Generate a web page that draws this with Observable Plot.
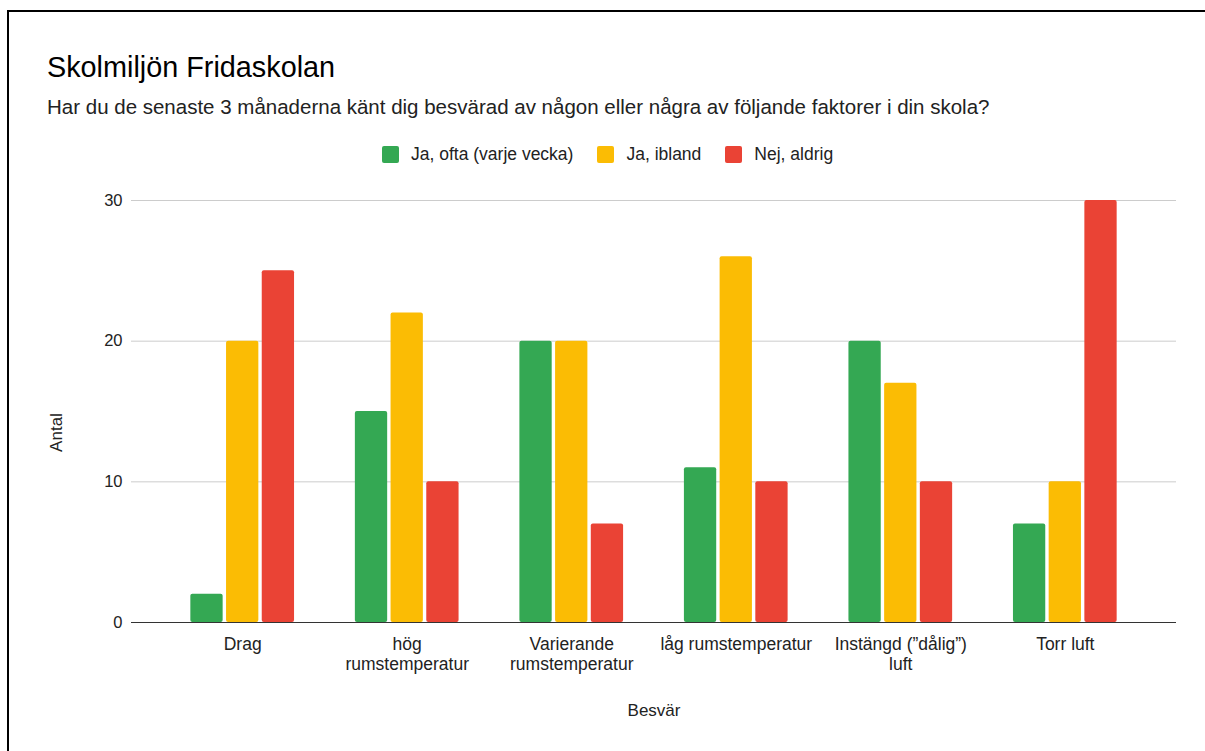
<!DOCTYPE html>
<html>
<head>
<meta charset="utf-8">
<script src="https://cdn.jsdelivr.net/npm/d3@7"></script>
<script src="https://cdn.jsdelivr.net/npm/@observablehq/plot@0.6"></script>
<style>
html, body { margin: 0; padding: 0; background: #fff; overflow: hidden; }
#page { width: 1205px; height: 751px; position: relative; overflow: hidden; font-family: Arial, "Liberation Sans", sans-serif; }
#frameTop { position: absolute; left: 7px; top: 10px; width: 1198px; height: 2px; background: #000; }
#frameLeft { position: absolute; left: 7px; top: 10px; width: 2px; height: 741px; background: #000; }
#title { position: absolute; left: 47px; top: 52.6px; font-size: 28.8px; line-height: 28.8px; color: #000; white-space: nowrap; }
#subtitle { position: absolute; left: 47px; top: 97.2px; font-size: 20.5px; line-height: 20.5px; color: #222; white-space: nowrap; }
#legend { position: absolute; left: 382px; top: 146px; display: flex; align-items: center; font-size: 17.5px; line-height: 17.5px; color: #222; white-space: nowrap; }
#legend .item { display: flex; align-items: center; margin-right: 24px; }
#legend .sw { display: inline-block; width: 17px; height: 17px; border-radius: 2px; margin-right: 12px; }
#chart { position: absolute; left: 0; top: 180px; }
</style>
</head>
<body>
<div id="page">
<div id="title"></div>
<div id="subtitle"></div>
<div id="legend"></div>
<div id="chart"></div>
<div id="frameTop"></div>
<div id="frameLeft"></div>
</div>
<script>
// ---- data ----
const titleText = "Skolmiljön Fridaskolan";
const subtitleText = "Har du de senaste 3 månaderna känt dig besvärad av någon eller några av följande faktorer i din skola?";
const xTitle = "Besvär";
const yTitle = "Antal";
const categories = ["Drag", "hög rumstemperatur", "Varierande rumstemperatur", "låg rumstemperatur", "Instängd (”dålig”) luft", "Torr luft"];
const tickLabels = ["Drag", "hög\nrumstemperatur", "Varierande\nrumstemperatur", "låg rumstemperatur", "Instängd (”dålig”)\nluft", "Torr luft"];
const seriesNames = ["Ja, ofta (varje vecka)", "Ja, ibland", "Nej, aldrig"];
const seriesColors = ["#34A853", "#FBBC04", "#EA4335"];
const ofta = [2, 15, 20, 11, 20, 7];
const ibland = [20, 22, 20, 26, 17, 10];
const aldrig = [25, 10, 7, 10, 10, 30];
const yTicks = [0, 10, 20, 30];

// ---- build ----
const seriesValues = [ofta, ibland, aldrig];
const rows = categories.flatMap((c, i) => seriesNames.map((s, j) => ({cat: c, series: s, value: seriesValues[j][i]})));

document.getElementById("title").textContent = titleText;
document.getElementById("subtitle").textContent = subtitleText;
const legend = document.getElementById("legend");
seriesNames.forEach((s, j) => {
  const item = document.createElement("div");
  item.className = "item";
  const sw = document.createElement("span");
  sw.className = "sw";
  sw.style.background = seriesColors[j];
  const t = document.createElement("span");
  t.textContent = s;
  item.appendChild(sw);
  item.appendChild(t);
  legend.appendChild(item);
});

const insets = [[0, 71.4], [35.7, 35.7], [71.4, 0]];
const bars = seriesNames.map((s, j) => Plot.barY(rows.filter(d => d.series === s), {
  x: "cat", y: "value", fill: "series",
  insetLeft: insets[j][0], insetRight: insets[j][1], rx: 2
}));

const chart = Plot.plot({
  width: 1205,
  height: 571,
  marginLeft: 131,
  marginRight: 29,
  marginTop: 20,
  marginBottom: 129,
  style: {background: "transparent", color: "#222", fontFamily: "Arial, 'Liberation Sans', sans-serif", fontSize: "17px", overflow: "visible"},
  x: {domain: categories, paddingInner: 0.3697, paddingOuter: 0.3607, round: false, label: null},
  y: {domain: [0, 30], label: null},
  color: {domain: seriesNames, range: seriesColors},
  marks: [
    Plot.ruleY(yTicks.filter(t => t !== 0), {stroke: "#cccccc", strokeWidth: 1}),
    ...bars,
    Plot.ruleY([0], {stroke: "#333333", strokeWidth: 1}),
    Plot.axisY({ticks: yTicks, tickSize: 0, tickPadding: 9, fontSize: 16.5, label: null}),
    Plot.axisX({tickSize: 0, tickPadding: 13.6, fontSize: 17.5, lineHeight: 1.143, label: null,
      tickFormat: d => tickLabels[categories.indexOf(d)]}),
    Plot.text([xTitle], {text: d => d, frameAnchor: "bottom", lineAnchor: "top", dy: 81, fontSize: 17, fill: "#222"}),
    Plot.text([yTitle], {text: d => d, frameAnchor: "left", textAnchor: "middle", rotate: -90, dx: -75, dy: 21, fontSize: 17, fill: "#222"})
  ]
});
document.getElementById("chart").appendChild(chart);
</script>
</body>
</html>
